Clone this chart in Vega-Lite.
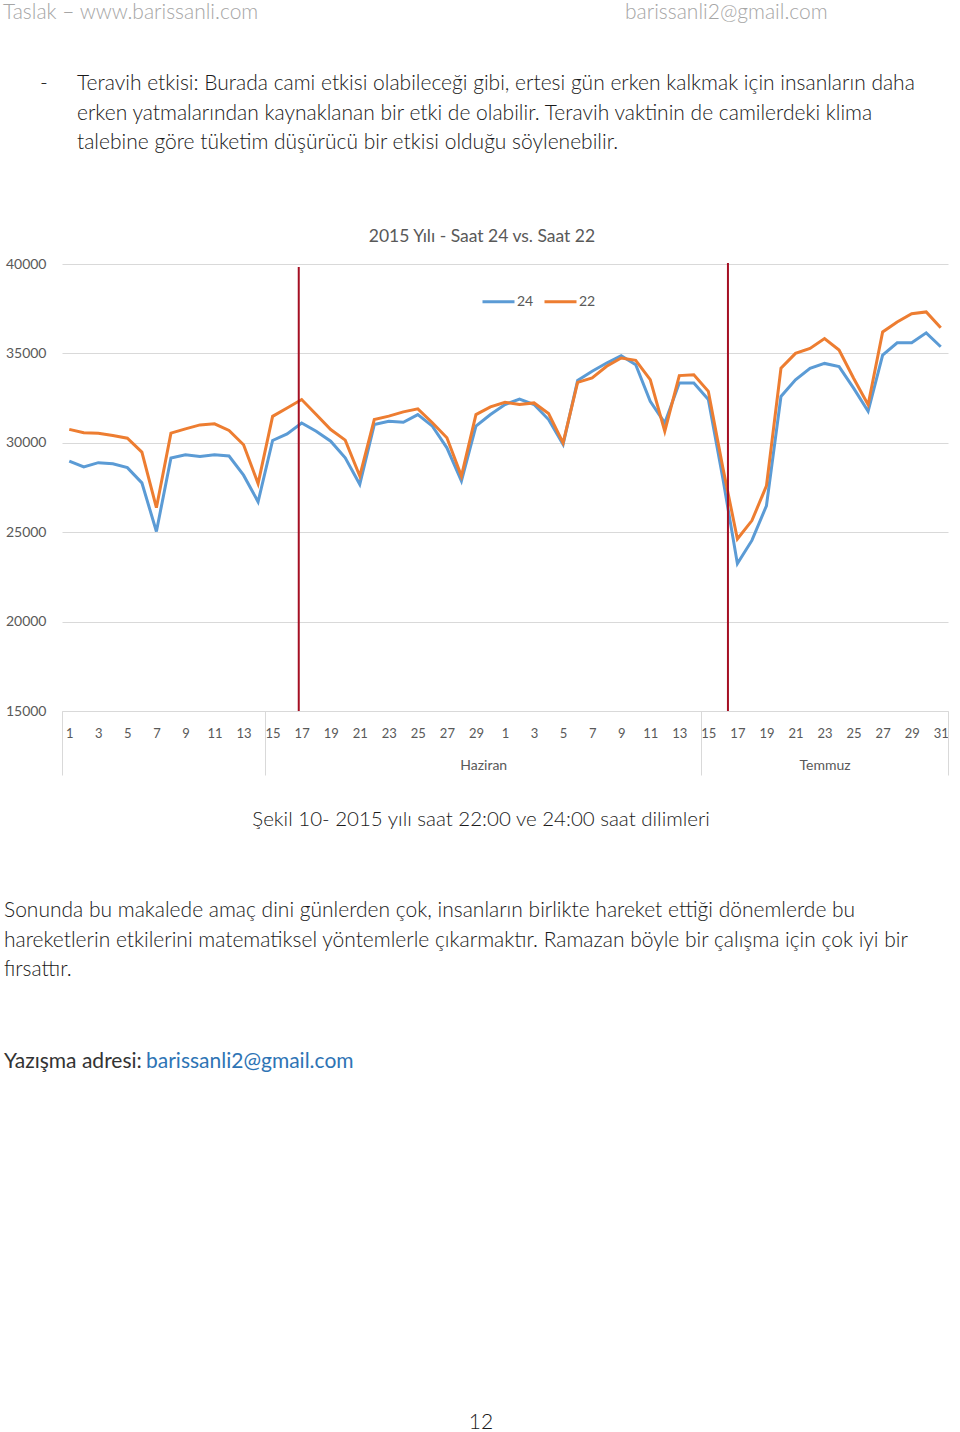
{
  "$schema": "https://vega.github.io/schema/vega-lite/v6.json",
  "background": "white",
  "padding": {"left": 3, "top": 0, "right": 0, "bottom": 0},
  "autosize": {"type": "pad"},
  "spacing": 0,
  "bounds": "flush",
  "config": {"view": {"stroke": null}, "font": "Lato"},
  "vconcat": [
    {
      "width": 886,
      "height": 264,
      "layer": [
        {
          "data": {"values": [{"t": "Taslak – www.barissanli.com"}]},
          "mark": {"type": "text", "align": "left", "baseline": "middle", "font": "Lato", "fontWeight": 300, "fontSize": 21, "color": "#a6a6a6"},
          "encoding": {"text": {"field": "t"}, "x": {"value": -59}, "y": {"value": 13}}
        },
        {
          "data": {"values": [{"t": "barissanli2@gmail.com"}]},
          "mark": {"type": "text", "align": "left", "baseline": "middle", "font": "Lato", "fontWeight": 300, "fontSize": 21, "color": "#a6a6a6"},
          "encoding": {"text": {"field": "t"}, "x": {"value": 563}, "y": {"value": 13}}
        },
        {
          "data": {"values": [{"t": "-"}]},
          "mark": {"type": "text", "align": "left", "baseline": "middle", "font": "Lato", "fontWeight": 300, "fontSize": 21, "color": "#1a1a1a"},
          "encoding": {"text": {"field": "t"}, "x": {"value": -22}, "y": {"value": 84}}
        },
        {
          "data": {"values": [{"t": "Teravih etkisi: Burada cami etkisi olabileceği gibi, ertesi gün erken kalkmak için insanların daha\nerken yatmalarından kaynaklanan bir etki de olabilir. Teravih vaktinin de camilerdeki klima\ntalebine göre tüketim düşürücü bir etkisi olduğu söylenebilir."}]},
          "mark": {"type": "text", "align": "left", "baseline": "middle", "lineBreak": "\n", "lineHeight": 29.5, "font": "Lato", "fontWeight": 300, "fontSize": 21, "color": "#1a1a1a"},
          "encoding": {"text": {"field": "t"}, "x": {"value": 15}, "y": {"value": 84}}
        }
      ]
    },
    {
      "width": 886,
      "height": 447,
      "title": {"text": "2015 Yılı - Saat 24 vs. Saat 22", "font": "Lato", "fontSize": 17.5, "fontWeight": "normal", "color": "#595959", "anchor": "middle", "offset": 12, "dx": -23},
      "resolve": {"axis": {"x": "independent"}},
      "layer": [
        {
          "data": {"values": [
            {"idx":1,"s":"24","v":28980},{"idx":2,"s":"24","v":28650},{"idx":3,"s":"24","v":28890},{"idx":4,"s":"24","v":28830},{"idx":5,"s":"24","v":28610},{"idx":6,"s":"24","v":27760},{"idx":7,"s":"24","v":25040},{"idx":8,"s":"24","v":29150},{"idx":9,"s":"24","v":29330},{"idx":10,"s":"24","v":29240},
            {"idx":11,"s":"24","v":29330},{"idx":12,"s":"24","v":29260},{"idx":13,"s":"24","v":28190},{"idx":14,"s":"24","v":26700},{"idx":15,"s":"24","v":30130},{"idx":16,"s":"24","v":30500},{"idx":17,"s":"24","v":31110},{"idx":18,"s":"24","v":30650},{"idx":19,"s":"24","v":30090},{"idx":20,"s":"24","v":29160},
            {"idx":21,"s":"24","v":27680},{"idx":22,"s":"24","v":31020},{"idx":23,"s":"24","v":31210},{"idx":24,"s":"24","v":31150},{"idx":25,"s":"24","v":31580},{"idx":26,"s":"24","v":30930},{"idx":27,"s":"24","v":29720},{"idx":28,"s":"24","v":27860},{"idx":29,"s":"24","v":30930},{"idx":30,"s":"24","v":31580},
            {"idx":31,"s":"24","v":32140},{"idx":32,"s":"24","v":32450},{"idx":33,"s":"24","v":32140},{"idx":34,"s":"24","v":31300},{"idx":35,"s":"24","v":29910},{"idx":36,"s":"24","v":33490},{"idx":37,"s":"24","v":34000},{"idx":38,"s":"24","v":34460},{"idx":39,"s":"24","v":34870},{"idx":40,"s":"24","v":34370},
            {"idx":41,"s":"24","v":32320},{"idx":42,"s":"24","v":31110},{"idx":43,"s":"24","v":33350},{"idx":44,"s":"24","v":33350},{"idx":45,"s":"24","v":32420},{"idx":46,"s":"24","v":28000},{"idx":47,"s":"24","v":23240},{"idx":48,"s":"24","v":24540},{"idx":49,"s":"24","v":26480},{"idx":50,"s":"24","v":32590},
            {"idx":51,"s":"24","v":33520},{"idx":52,"s":"24","v":34170},{"idx":53,"s":"24","v":34440},{"idx":54,"s":"24","v":34260},{"idx":55,"s":"24","v":33060},{"idx":56,"s":"24","v":31760},{"idx":57,"s":"24","v":34910},{"idx":58,"s":"24","v":35590},{"idx":59,"s":"24","v":35590},{"idx":60,"s":"24","v":36150},{"idx":61,"s":"24","v":35370},
            {"idx":1,"s":"22","v":30750},{"idx":2,"s":"22","v":30560},{"idx":3,"s":"22","v":30540},{"idx":4,"s":"22","v":30410},{"idx":5,"s":"22","v":30260},{"idx":6,"s":"22","v":29480},{"idx":7,"s":"22","v":26370},{"idx":8,"s":"22","v":30540},{"idx":9,"s":"22","v":30780},{"idx":10,"s":"22","v":31000},
            {"idx":11,"s":"22","v":31060},{"idx":12,"s":"22","v":30690},{"idx":13,"s":"22","v":29890},{"idx":14,"s":"22","v":27720},{"idx":15,"s":"22","v":31480},{"idx":16,"s":"22","v":31950},{"idx":17,"s":"22","v":32420},{"idx":18,"s":"22","v":31580},{"idx":19,"s":"22","v":30740},{"idx":20,"s":"22","v":30150},
            {"idx":21,"s":"22","v":28140},{"idx":22,"s":"22","v":31300},{"idx":23,"s":"22","v":31490},{"idx":24,"s":"22","v":31730},{"idx":25,"s":"22","v":31900},{"idx":26,"s":"22","v":31120},{"idx":27,"s":"22","v":30280},{"idx":28,"s":"22","v":28140},{"idx":29,"s":"22","v":31580},{"idx":30,"s":"22","v":32010},
            {"idx":31,"s":"22","v":32270},{"idx":32,"s":"22","v":32140},{"idx":33,"s":"22","v":32230},{"idx":34,"s":"22","v":31640},{"idx":35,"s":"22","v":30000},{"idx":36,"s":"22","v":33380},{"idx":37,"s":"22","v":33630},{"idx":38,"s":"22","v":34280},{"idx":39,"s":"22","v":34740},{"idx":40,"s":"22","v":34610},
            {"idx":41,"s":"22","v":33530},{"idx":42,"s":"22","v":30650},{"idx":43,"s":"22","v":33760},{"idx":44,"s":"22","v":33810},{"idx":45,"s":"22","v":32880},{"idx":46,"s":"22","v":28600},{"idx":47,"s":"22","v":24620},{"idx":48,"s":"22","v":25650},{"idx":49,"s":"22","v":27590},{"idx":50,"s":"22","v":34170},
            {"idx":51,"s":"22","v":35000},{"idx":52,"s":"22","v":35280},{"idx":53,"s":"22","v":35830},{"idx":54,"s":"22","v":35190},{"idx":55,"s":"22","v":33610},{"idx":56,"s":"22","v":32130},{"idx":57,"s":"22","v":36200},{"idx":58,"s":"22","v":36760},{"idx":59,"s":"22","v":37220},{"idx":60,"s":"22","v":37320},{"idx":61,"s":"22","v":36440}
          ]},
          "mark": {"type": "line", "strokeWidth": 3},
          "encoding": {
            "x": {"field": "idx", "type": "quantitative", "scale": {"domain": [0.5, 61.5], "nice": false, "zero": false},
              "axis": {"orient": "bottom", "title": null, "values": [1,3,5,7,9,11,13,15,17,19,21,23,25,27,29,31,33,35,37,39,41,43,45,47,49,51,53,55,57,59,61],
                "labelExpr": "datum.value > 30 ? datum.value - 30 : datum.value", "ticks": false, "grid": false, "domain": true, "domainColor": "#d9d9d9",
                "labelPadding": 16, "labelFont": "Lato", "labelFontSize": 13, "labelColor": "#595959", "labelOverlap": false, "labelFlush": false, "labelBound": false}},
            "y": {"field": "v", "type": "quantitative", "scale": {"domain": [15000, 40000], "nice": false, "zero": false},
              "axis": {"title": null, "values": [15000,20000,25000,30000,35000,40000], "ticks": false, "domain": false, "grid": true, "gridColor": "#d9d9d9",
                "labelPadding": 16, "labelFont": "Lato", "labelFontSize": 14, "labelColor": "#595959", "format": "d"}},
            "color": {"field": "s", "type": "nominal", "sort": ["24", "22"],
              "scale": {"domain": ["24", "22"], "range": ["#5b9bd5", "#ed7d31"]},
              "legend": {"title": null, "orient": "none", "legendX": 419, "legendY": 284, "direction": "horizontal", "symbolType": "stroke", "symbolSize": 1024, "symbolStrokeWidth": 3,
                "labelFont": "Lato", "labelFontSize": 14, "labelColor": "#595959", "labelOffset": 1, "columnPadding": 4}}
          }
        },
        {
          "data": {"values": [{"idx": 16.8, "y1": 15000, "y2": 39830}, {"idx": 46.35, "y1": 15000, "y2": 40060}]},
          "mark": {"type": "rule", "color": "#a50f23", "strokeWidth": 2},
          "encoding": {
            "x": {"field": "idx", "type": "quantitative",
              "axis": {"orient": "bottom", "title": null, "values": [0.5, 14.5, 29.5, 44.5, 53, 61.5],
                "labelExpr": "datum.value == 29.5 ? 'Haziran' : datum.value == 53 ? 'Temmuz' : ''",
                "ticks": true, "tickSize": 64, "tickColor": "#d9d9d9", "tickOpacity": {"condition": {"test": "datum.value == 29.5 || datum.value == 53", "value": 0}, "value": 1},
                "domain": false, "grid": false, "labelPadding": -17, "labelFont": "Lato", "labelFontSize": 14, "labelColor": "#595959", "labelOverlap": false, "labelFlush": false, "labelBound": false}},
            "y": {"field": "y1", "type": "quantitative"},
            "y2": {"field": "y2"}
          }
        }
      ]
    },
    {
      "width": 886,
      "height": 721,
      "layer": [
        {
          "data": {"values": [{"t": "Şekil 10- 2015 yılı saat 22:00 ve 24:00 saat dilimleri"}]},
          "mark": {"type": "text", "align": "center", "baseline": "middle", "font": "Lato", "fontWeight": 300, "fontSize": 20.5, "color": "#1a1a1a"},
          "encoding": {"text": {"field": "t"}, "x": {"value": 419}, "y": {"value": 109}}
        },
        {
          "data": {"values": [{"t": "Sonunda bu makalede amaç dini günlerden çok, insanların birlikte hareket ettiği dönemlerde bu\nhareketlerin etkilerini matematiksel yöntemlerle çıkarmaktır. Ramazan böyle bir çalışma için çok iyi bir\nfırsattır."}]},
          "mark": {"type": "text", "align": "left", "baseline": "middle", "lineBreak": "\n", "lineHeight": 29.5, "font": "Lato", "fontWeight": 300, "fontSize": 21, "color": "#1a1a1a"},
          "encoding": {"text": {"field": "t"}, "x": {"value": -58}, "y": {"value": 200}}
        },
        {
          "data": {"values": [{"t": "Yazışma adresi:"}]},
          "mark": {"type": "text", "align": "left", "baseline": "middle", "font": "Lato", "fontSize": 21, "color": "#333333"},
          "encoding": {"text": {"field": "t"}, "x": {"value": -58}, "y": {"value": 351}}
        },
        {
          "data": {"values": [{"t": "barissanli2@gmail.com"}]},
          "mark": {"type": "text", "align": "left", "baseline": "middle", "font": "Lato", "fontSize": 21, "color": "#2e74b5"},
          "encoding": {"text": {"field": "t"}, "x": {"value": 84}, "y": {"value": 351}}
        },
        {
          "data": {"values": [{"t": "12"}]},
          "mark": {"type": "text", "align": "center", "baseline": "middle", "font": "Lato", "fontWeight": 300, "fontSize": 21, "color": "#1a1a1a"},
          "encoding": {"text": {"field": "t"}, "x": {"value": 419}, "y": {"value": 712}}
        }
      ]
    }
  ]
}
